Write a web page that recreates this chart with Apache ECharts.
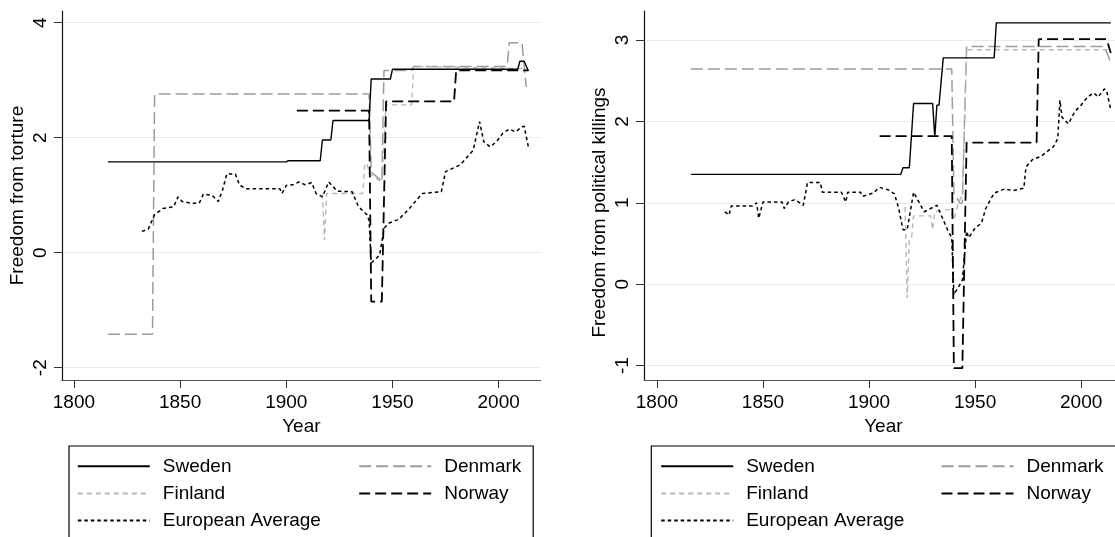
<!DOCTYPE html>
<html>
<head>
<meta charset="utf-8">
<script src="https://cdn.jsdelivr.net/npm/echarts@6/dist/echarts.min.js"></script>
<style>
html,body{margin:0;padding:0;background:#fff;}
#chart{width:1115px;height:537px;}
</style>
</head>
<body>
<div id="chart"></div>
<script>
// ---------- Data ----------
// Left panel: Freedom from torture  ([year, value] vertices)
const swedenTorture = [[1816,1.58],[1900,1.58],[1901,1.60],[1916,1.60],[1917,1.96],[1921,1.96],[1922,2.30],[1939,2.30],[1940,3.02],[1949,3.02],[1950,3.19],[2009,3.19],[2010,3.33],[2012,3.33],[2014,3.16]];
const denmarkTorture = [[1816,-1.42],[1837,-1.42],[1838,2.76],[1939,2.76],[1940,1.40],[1944,1.28],[1945,1.23],[1946,3.17],[1959,3.17],[1960,3.24],[2004,3.24],[2005,3.65],[2011,3.65],[2013,2.88]];
const finlandTorture = [[1917,1.03],[1918,0.22],[1919,1.03],[1936,1.03],[1937,1.55],[1938,1.55],[1939,1.38],[1942,1.30],[1945,1.23],[1947,2.57],[1959,2.57],[1960,3.24],[2013,3.20]];
const norwayTorture = [[1905,2.47],[1939,2.47],[1940,-0.85],[1945,-0.85],[1947,2.63],[1979,2.63],[1980,3.17],[2014,3.17]];
const europeTorture = [[1832,0.37],[1835,0.41],[1838,0.66],[1842,0.77],[1847,0.80],[1849,0.97],[1851,0.89],[1855,0.86],[1859,0.86],[1861,1.02],[1865,1.00],[1868,0.89],[1870,1.09],[1872,1.37],[1876,1.37],[1878,1.18],[1881,1.11],[1897,1.11],[1898,1.03],[1900,1.17],[1903,1.18],[1906,1.23],[1909,1.18],[1912,1.22],[1914,1.03],[1917,0.97],[1920,1.23],[1924,1.07],[1931,1.06],[1934,0.80],[1938,0.66],[1939,0.56],[1940,-0.18],[1944,-0.04],[1946,0.42],[1948,0.51],[1953,0.58],[1958,0.77],[1964,1.03],[1973,1.06],[1975,1.41],[1982,1.53],[1988,1.78],[1991,2.28],[1993,1.93],[1996,1.84],[1999,1.93],[2002,2.08],[2005,2.15],[2008,2.10],[2011,2.19],[2012,2.20],[2014,1.84]];

// Right panel: Freedom from political killings
const swedenKillings = [[1816,1.35],[1915,1.35],[1916,1.43],[1919,1.43],[1921,2.22],[1930,2.22],[1931,1.81],[1932,2.20],[1933,2.20],[1935,2.78],[1959,2.78],[1960,3.21],[2014,3.21]];
const denmarkKillings = [[1816,2.645],[1939,2.645],[1940,1.12],[1943,0.99],[1944,1.00],[1946,2.92],[2011,2.92],[2014,2.72]];
const finlandKillings = [[1917,0.95],[1918,-0.17],[1919,0.54],[1920,0.56],[1921,0.84],[1929,0.84],[1930,0.67],[1931,0.89],[1938,0.92],[1940,0.79],[1942,0.99],[1944,1.10],[1945,2.00],[1946,2.88],[2014,2.88]];
const norwayKillings = [[1905,1.82],[1939,1.82],[1940,-1.03],[1944,-1.03],[1946,1.74],[1979,1.74],[1980,3.01],[2012,3.01],[2014,2.84]];
const europeKillings = [[1832,0.89],[1834,0.85],[1835,0.96],[1845,0.96],[1847,1.00],[1848,0.81],[1850,1.01],[1859,1.01],[1860,0.93],[1862,1.01],[1865,1.04],[1869,0.97],[1871,1.25],[1877,1.25],[1878,1.13],[1887,1.13],[1889,1.01],[1890,1.13],[1896,1.13],[1897,1.08],[1902,1.12],[1905,1.19],[1909,1.16],[1912,1.11],[1914,0.93],[1916,0.67],[1918,0.67],[1921,1.13],[1926,0.89],[1929,0.93],[1932,0.97],[1937,0.67],[1939,0.57],[1940,-0.13],[1944,0.05],[1946,0.65],[1947,0.57],[1950,0.69],[1953,0.75],[1955,0.93],[1959,1.12],[1964,1.17],[1968,1.15],[1973,1.18],[1974,1.44],[1977,1.53],[1981,1.57],[1987,1.69],[1989,1.79],[1990,2.26],[1991,2.05],[1994,1.97],[1997,2.12],[2000,2.20],[2003,2.30],[2006,2.35],[2008,2.30],[2011,2.40],[2012,2.38],[2014,2.14]];

const xTicks = [1800, 1850, 1900, 1950, 2000];
const yTicksTorture = [-2, 0, 2, 4];
const yTicksKillings = [-1, 0, 1, 2, 3];
const seriesNames = ['Sweden', 'Denmark', 'Finland', 'Norway', 'European Average'];
const leftTitle = 'Freedom from torture';
const rightTitle = 'Freedom from political killings';
const xTitle = 'Year';

// ---------- Styling ----------
const FONT = "'Liberation Sans', Arial, Helvetica, sans-serif";
const lineStyles = {
  'Sweden': {color: '#000000', width: 1.4, type: 'solid'},
  'Denmark': {color: '#9c9c9c', width: 1.5, type: [12, 5]},
  'Finland': {color: '#b8b8b8', width: 1.4, type: [5, 4]},
  'Norway': {color: '#000000', width: 1.8, type: [11, 5]},
  'European Average': {color: '#000000', width: 1.5, type: [3.5, 3]}
};
const panels = [
  {data: [swedenTorture, denmarkTorture, finlandTorture, norwayTorture, europeTorture], yMin: -2.214, yMax: 4.203, yTicks: yTicksTorture, xMin: 1794.4, xMax: 2019.8, left: 62},
  {data: [swedenKillings, denmarkKillings, finlandKillings, norwayKillings, europeKillings], yMin: -1.176, yMax: 3.356, yTicks: yTicksKillings, xMin: 1793.9, xMax: 2019.6, left: 644}
];

const grids = [], xAxes = [], yAxes = [], series = [];
panels.forEach((p, i) => {
  grids.push({left: p.left, top: 11, width: 478.7, height: 369, containLabel: false, outerBoundsMode: 'none'});
  xAxes.push({
    type: 'value', gridIndex: i, min: p.xMin, max: p.xMax,
    axisLine: {show: true, onZero: false, lineStyle: {color: '#555', width: 1.2}},
    axisTick: {show: true, customValues: xTicks, length: 8, lineStyle: {color: '#333', width: 1}},
    axisLabel: {show: true, customValues: xTicks, margin: 13, fontSize: 19, color: '#000', fontFamily: FONT, formatter: v => String(v)},
    splitLine: {show: false},
    name: xTitle, nameLocation: 'middle', nameGap: 36,
    nameTextStyle: {fontSize: 19, color: '#000', fontFamily: FONT}
  });
  yAxes.push({
    type: 'value', gridIndex: i, min: p.yMin, max: p.yMax,
    axisLine: {show: true, onZero: false, lineStyle: {color: '#111', width: 1.2}},
    axisTick: {show: true, customValues: p.yTicks, length: 8, lineStyle: {color: '#333', width: 1}},
    axisLabel: {show: true, customValues: p.yTicks, rotate: 90, margin: 12, fontSize: 19, color: '#000', fontFamily: FONT, formatter: v => String(v)},
    splitLine: {show: true, lineStyle: {color: '#e6edf0', width: 1}}
  });
  p.data.forEach((d, k) => {
    const nm = seriesNames[k];
    series.push({
      type: 'line', name: nm, xAxisIndex: i, yAxisIndex: i, data: d,
      symbol: 'none', showSymbol: false, silent: true,
      lineStyle: Object.assign({}, lineStyles[nm]),
      z: k === 0 ? 5 : 3
    });
  });
});

function legendCol(names, left, top) {
  return {
    data: names, orient: 'vertical', left: left, top: top,
    itemWidth: 72, itemHeight: 19, itemGap: 8.2, padding: 0,
    selectedMode: false,
    itemStyle: {opacity: 0, borderWidth: 0},
    textStyle: {fontSize: 19, color: '#000', fontFamily: FONT, padding: [0, 0, 0, 8]}
  };
}

const option = {
  animation: false,
  backgroundColor: '#ffffff',
  grid: grids,
  xAxis: xAxes,
  yAxis: yAxes,
  series: series,
  legend: [
    legendCol(['Sweden', 'Finland'], 76.8, 456.8),
    legendCol(['European Average'], 76.8, 511),
    legendCol(['Denmark', 'Norway'], 358.2, 456.8),
    legendCol(['Sweden', 'Finland'], 660.2, 456.8),
    legendCol(['European Average'], 660.2, 511),
    legendCol(['Denmark', 'Norway'], 940.5, 456.8)
  ],
  graphic: [
    {type: 'rect', shape: {x: 69, y: 446, width: 464.2, height: 110}, style: {fill: 'none', stroke: '#000', lineWidth: 1.2}, silent: true},
    {type: 'rect', shape: {x: 651.3, y: 446, width: 470, height: 110}, style: {fill: 'none', stroke: '#000', lineWidth: 1.2}, silent: true},
    {type: 'text', x: 18, y: 195.5, rotation: Math.PI / 2, silent: true,
     style: {text: leftTitle, fontSize: 19, fontFamily: FONT, fill: '#000', align: 'center', verticalAlign: 'middle'}},
    {type: 'text', x: 600, y: 212.5, rotation: Math.PI / 2, silent: true,
     style: {text: rightTitle, fontSize: 19, fontFamily: FONT, fill: '#000', align: 'center', verticalAlign: 'middle'}}
  ]
};

const chart = echarts.init(document.getElementById('chart'), null, {renderer: 'canvas'});
chart.setOption(option);
</script>
</body>
</html>
